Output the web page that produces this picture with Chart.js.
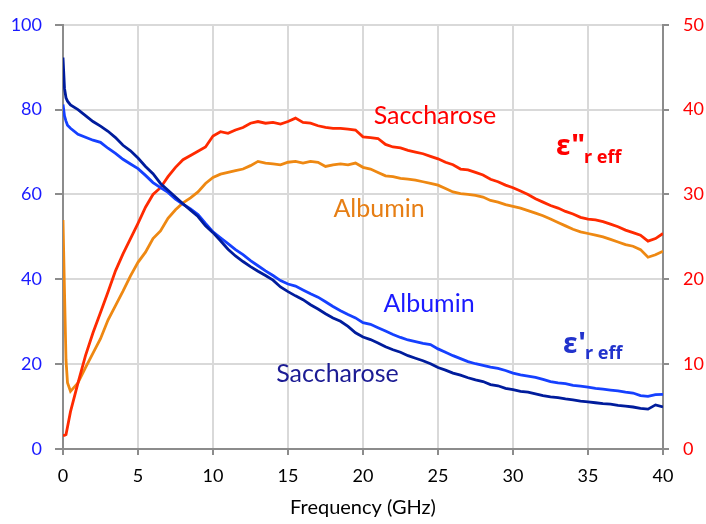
<!DOCTYPE html>
<html>
<head>
<meta charset="utf-8">
<script src="https://cdn.jsdelivr.net/npm/chart.js@4.4.1/dist/chart.umd.min.js"></script>
<style>
  html, body { margin: 0; padding: 0; background: #fff; }
</style>
</head>
<body>
<canvas id="permChart" width="706" height="524"></canvas>
<script>
// DATA
const freq = [0, 0.1, 0.2, 0.3,
  0.5, 1, 1.5, 2, 2.5, 3, 3.5, 4, 4.5, 5, 5.5, 6, 6.5, 7, 7.5, 8, 8.5, 9, 9.5, 10,
  10.5, 11, 11.5, 12, 12.5, 13, 13.5, 14, 14.5, 15, 15.5, 16, 16.5, 17, 17.5, 18, 18.5, 19, 19.5, 20,
  20.5, 21, 21.5, 22, 22.5, 23, 23.5, 24, 24.5, 25, 25.5, 26, 26.5, 27, 27.5, 28, 28.5, 29, 29.5, 30,
  30.5, 31, 31.5, 32, 32.5, 33, 33.5, 34, 34.5, 35, 35.5, 36, 36.5, 37, 37.5, 38, 38.5, 39, 39.5, 40]

// eps' (left axis)
const epsRealSaccharose = [92.3, 85, 82.8, 82,
  81.1, 80.0, 78.6, 77.2, 76.1, 74.9, 73.4, 71.6, 70.3, 68.6, 66.6, 64.9, 62.6, 61.0, 59.4, 57.8, 56.3, 54.8, 52.6, 51.0,
  49.1, 47.1, 45.5, 44.2, 43.0, 41.9, 40.9, 39.8, 38.2, 37.1, 36.1, 35.2, 34.0, 33.0, 31.9, 30.9, 30.1, 28.9, 27.4, 26.4,
  25.8, 25.0, 24.1, 23.4, 22.8, 22.0, 21.4, 20.8, 20.1, 19.2, 18.6, 17.9, 17.4, 16.8, 16.3, 15.9, 15.2, 14.9, 14.3, 14.0,
  13.6, 13.4, 13.0, 12.6, 12.3, 12.1, 11.8, 11.6, 11.3, 11.1, 10.9, 10.7, 10.6, 10.3, 10.1, 9.9, 9.6, 9.4, 10.4, 9.9]

const epsRealAlbumin = [81.2, 78.5, 77.3, 76.3,
  75.6, 74.2, 73.5, 72.8, 72.3, 70.9, 69.7, 68.3, 67.2, 66.1, 64.5, 62.8, 61.6, 60.5, 58.9, 57.7, 56.6, 55.3, 53.2, 51.2,
  49.8, 48.4, 47.0, 45.8, 44.4, 43.2, 42.0, 40.9, 39.7, 38.9, 38.4, 37.5, 36.6, 35.8, 34.7, 33.6, 32.6, 31.7, 30.9, 29.8,
  29.4, 28.6, 27.8, 27.0, 26.3, 25.7, 25.3, 24.9, 24.6, 23.6, 22.8, 22.0, 21.3, 20.6, 20.1, 19.7, 19.3, 19.0, 18.5, 17.9,
  17.5, 17.2, 16.9, 16.4, 15.9, 15.6, 15.4, 15.0, 14.8, 14.6, 14.3, 14.1, 13.9, 13.7, 13.4, 13.2, 12.6, 12.4, 12.8, 12.9]

// eps'' (right axis)
const epsImagSaccharose = [1.6, 1.6, 1.7, 2.6,
  4.4, 7.8, 11.0, 13.7, 16.1, 18.5, 21.0, 23.0, 24.8, 26.6, 28.5, 30.0, 30.8, 32.1, 33.2, 34.1, 34.6, 35.1, 35.6, 36.9,
  37.4, 37.2, 37.6, 37.9, 38.4, 38.6, 38.4, 38.5, 38.3, 38.6, 39.0, 38.5, 38.4, 38.1, 37.9, 37.8, 37.8, 37.7, 37.6, 36.8,
  36.7, 36.6, 35.9, 35.6, 35.5, 35.2, 35.0, 34.8, 34.5, 34.2, 33.8, 33.5, 33.0, 32.9, 32.6, 32.3, 31.8, 31.5, 31.1, 30.8,
  30.4, 30.0, 29.5, 29.1, 28.7, 28.4, 28.0, 27.7, 27.3, 27.1, 27.0, 26.8, 26.5, 26.2, 25.8, 25.5, 25.2, 24.5, 24.8, 25.4]

const epsImagAlbumin = [27.0, 18.5, 10.5, 7.8,
  6.8, 7.8, 9.6, 11.3, 13.0, 15.2, 16.9, 18.6, 20.4, 22.0, 23.2, 24.8, 25.7, 27.2, 28.2, 29.0, 29.6, 30.3, 31.3, 32.0,
  32.4, 32.6, 32.8, 33.0, 33.4, 33.9, 33.7, 33.6, 33.5, 33.8, 33.9, 33.7, 33.9, 33.8, 33.3, 33.5, 33.6, 33.5, 33.7, 33.2,
  33.0, 32.6, 32.2, 32.1, 31.9, 31.8, 31.7, 31.5, 31.3, 31.1, 30.7, 30.3, 30.1, 30.0, 29.9, 29.7, 29.3, 29.1, 28.8, 28.6,
  28.4, 28.1, 27.8, 27.5, 27.1, 26.7, 26.3, 25.9, 25.6, 25.4, 25.2, 25.0, 24.7, 24.4, 24.1, 23.9, 23.5, 22.6, 22.9, 23.3]

const xTicks = [0, 5, 10, 15, 20, 25, 30, 35, 40]
const leftTicks = [0, 20, 40, 60, 80, 100]
const rightTicks = [0, 10, 20, 30, 40, 50]

function toPoints (values) {
    return freq.map((f, i) => ({ x: f, y: values[i] }))
}

// text labels placed in data coordinates
const notes = [
    { text: 'Saccharose', x: 24.8, y: 39.3, axis: 'y2', color: '#ff0000', font: '25px Lato', align: 'center' },
    { text: 'Albumin', x: 21.07, y: 28.3, axis: 'y2', color: '#e67e14', font: '25px Lato', align: 'center' },
    { text: 'Albumin', x: 24.4, y: 34.3, axis: 'y', color: '#1a1aff', font: '25px Lato', align: 'center' },
    { text: 'Saccharose', x: 18.3, y: 17.6, axis: 'y', color: '#1c1c94', font: '25px Lato', align: 'center' },
    { text: 'ε"', x: 32.87, y: 35.6, axis: 'y2', color: '#ff0000', font: 'bold 29px "Noto Sans"', align: 'left' },
    { text: 'r eff', x: 34.73, y: 34.3, axis: 'y2', color: '#ff0000', font: 'bold 18px "Noto Sans"', align: 'left' },
    { text: "ε'", x: 33.33, y: 24.65, axis: 'y', color: '#2233cc', font: 'bold 29px "Noto Sans"', align: 'left' },
    { text: 'r eff', x: 34.8, y: 22.35, axis: 'y', color: '#2233cc', font: 'bold 18px "Noto Sans"', align: 'left' }
]

const notesPlugin = {
    id: 'notes',
    afterDatasetsDraw (chart) {
        const ctx = chart.ctx
        ctx.save()
        ctx.textBaseline = 'middle'
        notes.forEach(n => {
            ctx.font = n.font
            ctx.fillStyle = n.color
            ctx.textAlign = n.align
            ctx.fillText(n.text, chart.scales.x.getPixelForValue(n.x), chart.scales[n.axis].getPixelForValue(n.y))
        })
        ctx.restore()
    }
}

const gridGray = '#d9d9d9'
const axisGray = '#8c8c8c'

const dataPerm = {
    datasets: [
        { label: "eps' Saccharose", data: toPoints(epsRealSaccharose), borderColor: '#001c9c', yAxisID: 'y' },
        { label: "eps' Albumin", data: toPoints(epsRealAlbumin), borderColor: '#1540ff', yAxisID: 'y' },
        { label: 'eps" Saccharose', data: toPoints(epsImagSaccharose), borderColor: '#ff2a00', yAxisID: 'y2' },
        { label: 'eps" Albumin', data: toPoints(epsImagAlbumin), borderColor: '#ee8812', yAxisID: 'y2' }
    ]
}

const configPerm = {
    type: 'line',
    data: dataPerm,
    options: {
        responsive: false,
        animation: false,
        devicePixelRatio: 1,
        layout: { padding: { top: 15, left: 0, right: 0, bottom: 0 } },
        elements: {
            point: { radius: 0 },
            line: { borderWidth: 2.8, tension: 0 }
        },
        plugins: {
            legend: { display: false },
            tooltip: { enabled: false }
        },
        scales: {
            x: {
                type: 'linear',
                min: 0,
                max: 40,
                afterBuildTicks: s => { s.ticks = xTicks.map(v => ({ value: v })) },
                afterFit: s => { s.height = 75 },
                ticks: { color: '#000', font: { family: 'Lato', size: 18 }, padding: 10, maxRotation: 0 },
                grid: { color: gridGray, lineWidth: 2, tickColor: axisGray, tickLength: 6 },
                border: { color: axisGray, width: 2 },
                title: { display: true, text: 'Frequency (GHz)', color: '#000', font: { family: 'Lato', size: 20 }, padding: { top: 0, bottom: 4 } }
            },
            y: {
                position: 'left',
                min: 0,
                max: 100,
                afterBuildTicks: s => { s.ticks = leftTicks.map(v => ({ value: v })) },
                afterFit: s => { s.width = 63 },
                ticks: { color: '#1a1aff', font: { family: 'Lato', size: 18 }, padding: 13 },
                grid: { color: gridGray, lineWidth: 2, tickColor: axisGray, tickLength: 8 },
                border: { color: axisGray, width: 2 }
            },
            y2: {
                position: 'right',
                min: 0,
                max: 50,
                afterBuildTicks: s => { s.ticks = rightTicks.map(v => ({ value: v })) },
                afterFit: s => { s.width = 43 },
                ticks: { color: '#ff0000', font: { family: 'Lato', size: 18 }, padding: 14 },
                grid: { drawOnChartArea: false, tickColor: axisGray, tickLength: 6, lineWidth: 2 },
                border: { color: axisGray, width: 2 }
            }
        }
    },
    plugins: [notesPlugin]
}

const permChart = new Chart(
    document.getElementById('permChart'),
    configPerm
)
</script>
</body>
</html>
